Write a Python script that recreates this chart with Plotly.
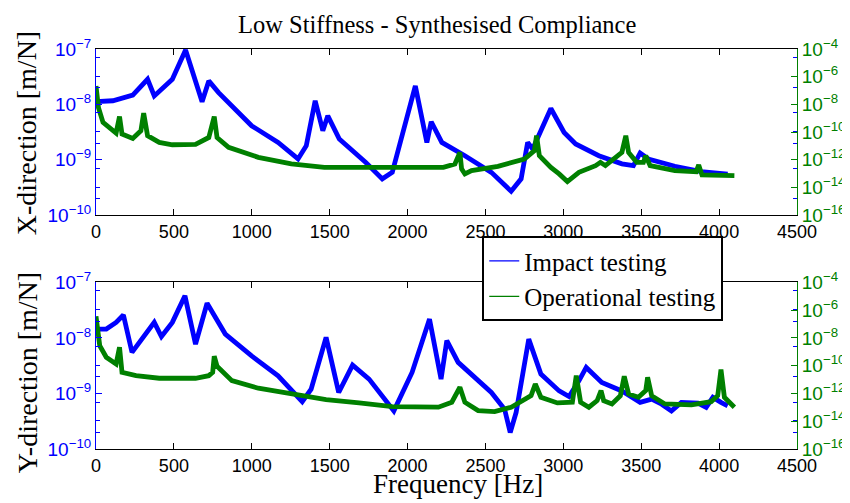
import plotly.graph_objects as go

# ---------------- data ----------------
# Top panel: X-direction
freq_impact_x = [2, 108, 236, 331, 374, 490, 575, 681, 724, 787, 999, 1169, 1297, 1350, 1407,
                 1456, 1488, 1562, 1732, 1838, 1902, 2050, 2124, 2152, 2220, 2368, 2538, 2665,
                 2729, 2771, 2803, 2920, 3005, 3079, 3228, 3376, 3450, 3493, 3546, 3716, 3885, 4055]
impact_x = [1.12e-8, 1.16e-8, 1.47e-8, 2.84e-8, 1.42e-8, 2.84e-8, 9.6e-8, 1.11e-8, 2.65e-8, 1.63e-8,
            4.1e-9, 2.05e-9, 1.03e-9, 1.79e-9, 1.16e-8, 3.33e-9, 6.2e-9, 2.36e-9, 8.9e-10, 4.5e-10,
            5.9e-10, 2.15e-8, 2.05e-9, 4.84e-9, 2.05e-9, 1.18e-9, 5.9e-10, 2.69e-10, 4.5e-10, 2.05e-9,
            1.56e-9, 8.4e-9, 3.1e-9, 1.92e-9, 1.18e-9, 8.4e-10, 7.8e-10, 1.32e-9, 1.03e-9, 7.6e-10,
            6.1e-10, 5.5e-10]

freq_oper_x = [0, 16, 45, 129, 151, 167, 236, 288, 306, 331, 406, 490, 639, 724, 759, 777, 851,
               1042, 1254, 1466, 2230, 2304, 2336, 2347, 2368, 2411, 2580, 2750, 2814, 2828, 2846,
               2920, 2973, 3026, 3100, 3207, 3238, 3270, 3376, 3401, 3419, 3471, 3514, 3529, 3557,
               3716, 3853, 3869, 3890, 4098]
oper_x = [2.15e-7, 5.6e-9, 4.9e-10, 8.4e-11, 1.32e-9, 7.1e-11, 3.4e-11, 1.23e-10, 2.32e-9, 5.4e-11,
          1.77e-11, 1.2e-11, 1.27e-11, 4.0e-11, 1.32e-9, 4.0e-11, 7.7e-12, 1.47e-12, 4.9e-13, 2.79e-13,
          2.79e-13, 4.9e-13, 3.36e-12, 2.14e-13, 9.3e-14, 1.61e-13, 3.29e-13, 1.12e-12, 4.46e-12, 5.4e-11,
          1.94e-12, 2.79e-13, 9.3e-14, 2.6e-14, 1.22e-13, 3.7e-13, 6.4e-13, 3.7e-13, 3.36e-12, 5.4e-11,
          3.36e-12, 6.4e-13, 6.4e-13, 1.94e-12, 3.7e-13, 1.61e-13, 1.36e-13, 4.15e-13, 7.9e-14, 7.0e-14]

# Bottom panel: Y-direction
freq_impact_y = [2, 66, 129, 176, 231, 374, 420, 490, 571, 639, 713, 830, 999, 1169, 1324, 1381,
                 1477, 1558, 1647, 1753, 1912, 2029, 2141, 2215, 2252, 2325, 2538, 2623, 2659, 2697,
                 2778, 2856, 2973, 3037, 3100, 3147, 3247, 3376, 3493, 3567, 3631, 3694, 3758, 3864,
                 3917, 3960, 4012, 4055]
impact_y = [1.44e-8, 1.44e-8, 1.90e-8, 2.58e-8, 5.5e-9, 1.90e-8, 1.06e-8, 1.90e-8, 5.7e-8, 7.7e-9,
            4.2e-8, 1.17e-8, 4.75e-9, 2.07e-9, 7.1e-10, 1.19e-9, 1.02e-8, 1.04e-9, 3.24e-9, 1.81e-9,
            4.85e-10, 2.39e-9, 2.18e-8, 1.81e-9, 8.9e-9, 3.62e-9, 1.04e-9, 5.2e-10, 1.98e-10, 4.55e-10,
            9.5e-9, 2.23e-9, 1.11e-9, 8.8e-10, 1.69e-9, 2.94e-9, 1.58e-9, 1.11e-9, 6.9e-10, 7.9e-10,
            6.4e-10, 4.85e-10, 6.9e-10, 6.7e-10, 5.6e-10, 8.5e-10, 6.9e-10, 6.0e-10]

freq_oper_y = [0, 24, 66, 129, 151, 167, 257, 406, 639, 724, 749, 759, 777, 872, 1042, 1254, 1477,
               1689, 1902, 2198, 2284, 2336, 2368, 2453, 2559, 2665, 2793, 2820, 2856, 2962, 3058,
               3083, 3111, 3164, 3217, 3242, 3259, 3312, 3366, 3391, 3419, 3482, 3529, 3541, 3567,
               3652, 3822, 3949, 3991, 4012, 4034, 4098]
oper_y = [3.58e-7, 2.75e-9, 4.0e-10, 1.32e-10, 2.11e-9, 3.35e-11, 1.91e-11, 1.24e-11, 1.24e-11, 1.91e-11,
          3.35e-11, 4.74e-10, 9.1e-11, 8.3e-12, 2.37e-12, 9.2e-13, 3.58e-13, 2.07e-13, 1.12e-13, 1.02e-13,
          2.33e-13, 2.79e-12, 2.33e-13, 5.8e-14, 4.9e-14, 1.02e-13, 6.9e-13, 4.8e-12, 5.3e-13, 2.07e-13,
          2.33e-13, 1.91e-11, 2.33e-13, 1.02e-13, 3.03e-13, 1.59e-12, 3.03e-13, 1.76e-13, 6.9e-13, 1.73e-11,
          9.2e-13, 5.3e-13, 1.59e-12, 1.46e-11, 6.9e-13, 1.76e-13, 1.49e-13, 2.57e-13, 6.9e-13, 5.2e-11,
          5.3e-13, 1.02e-13]

x_ticks = [0, 500, 1000, 1500, 2000, 2500, 3000, 3500, 4000, 4500]
left_ticks = [1e-10, 1e-9, 1e-8, 1e-7]
left_tick_text = ["10<sup>\u221210</sup>", "10<sup>\u22129</sup>", "10<sup>\u22128</sup>", "10<sup>\u22127</sup>"]
left_minor_ticks = [7e-8, 3.2e-8, 2e-8, 7e-9, 3.2e-9, 2e-9, 7e-10, 3.2e-10, 2e-10]
right_ticks = [1e-16, 1e-14, 1e-12, 1e-10, 1e-8, 1e-6, 1e-4]
right_tick_text = ["10<sup>\u221216</sup>", "10<sup>\u221214</sup>", "10<sup>\u221212</sup>",
                   "10<sup>\u221210</sup>", "10<sup>\u22128</sup>", "10<sup>\u22126</sup>",
                   "10<sup>\u22124</sup>"]

series_names = ["Impact testing", "Operational testing"]
title_text = "Low Stiffness - Synthesised Compliance"
ylabel_top = "X-direction [m/N]"
ylabel_bottom = "Y-direction [m/N]"
xlabel = "Frequency [Hz]"

# ---------------- styling ----------------
BLUE = "#0000ff"
GREEN = "#008000"
SERIF = "Liberation Serif"
SANS = "Liberation Sans"
LW = 4.8

fig = go.Figure()

# top panel
fig.add_trace(go.Scatter(x=freq_impact_x, y=impact_x, mode="lines", xaxis="x2", yaxis="y3",
                         line=dict(color=BLUE, width=LW), showlegend=False, hoverinfo="skip"))
fig.add_trace(go.Scatter(x=freq_oper_x, y=oper_x, mode="lines", xaxis="x2", yaxis="y4",
                         line=dict(color=GREEN, width=LW), showlegend=False, hoverinfo="skip"))
# bottom panel
fig.add_trace(go.Scatter(x=freq_impact_y, y=impact_y, mode="lines", xaxis="x", yaxis="y",
                         line=dict(color=BLUE, width=LW), showlegend=False, hoverinfo="skip"))
fig.add_trace(go.Scatter(x=freq_oper_y, y=oper_y, mode="lines", xaxis="x", yaxis="y2",
                         line=dict(color=GREEN, width=LW), showlegend=False, hoverinfo="skip"))
# legend entries (thin lines as in the reference legend)
for name, col in zip(series_names, [BLUE, GREEN]):
    fig.add_trace(go.Scatter(x=[None], y=[None], mode="lines", xaxis="x", yaxis="y",
                             line=dict(color=col, width=1.2), name=name))

def xaxis_cfg(anchor):
    return dict(domain=[0, 1], anchor=anchor, range=[0, 4500], tickmode="array", tickvals=x_ticks,
                ticks="inside", ticklen=6, tickcolor="black", showline=True, linecolor="black",
                linewidth=1, mirror="ticks", showgrid=False, zeroline=False,
                tickfont=dict(family=SANS, size=18, color="black"))

def left_cfg(domain, anchor):
    return dict(domain=domain, anchor=anchor, type="log", range=[-10, -7],
                tickmode="array", tickvals=left_ticks, ticktext=left_tick_text,
                ticks="inside", ticklen=6, tickcolor=BLUE,
                showline=True, linecolor=BLUE, linewidth=1, mirror="ticks", showgrid=False,
                zeroline=False, tickfont=dict(family=SANS, size=19, color=BLUE),
                minor=dict(tickmode="array", tickvals=left_minor_ticks, ticks="inside",
                           ticklen=4, tickcolor=BLUE, showgrid=False))

def right_cfg(over, anchor):
    return dict(overlaying=over, anchor=anchor, side="right", type="log", range=[-16, -4],
                tickmode="array", tickvals=right_ticks, ticktext=right_tick_text,
                ticks="inside", ticklen=6, tickcolor=GREEN,
                showline=True, linecolor=GREEN, linewidth=1, showgrid=False, zeroline=False,
                tickfont=dict(family=SANS, size=19, color=GREEN))

fig.update_layout(
    width=850, height=503, autosize=False,
    margin=dict(l=88, r=55, t=41, b=62),
    paper_bgcolor="white", plot_bgcolor="white",
    xaxis=xaxis_cfg("y"),
    yaxis=left_cfg([0, 0.4167], "x"),
    yaxis2=right_cfg("y", "x"),
    xaxis2=xaxis_cfg("y3"),
    yaxis3=left_cfg([0.585, 1], "x2"),
    yaxis4=right_cfg("y3", "x2"),
    showlegend=True,
    legend=dict(x=0.551, y=0.532, xanchor="left", yanchor="top", bgcolor="white",
                bordercolor="black", borderwidth=2, font=dict(family=SERIF, size=25, color="black"),
                itemwidth=30, tracegroupgap=0),
    annotations=[
        dict(text=title_text, xref="paper", yref="paper", x=0.487, y=1.06, showarrow=False,
             xanchor="center", yanchor="middle", font=dict(family=SERIF, size=24.5, color="black")),
        dict(text=ylabel_top, xref="paper", yref="paper", x=-0.098, y=0.79, showarrow=False,
             textangle=-90, xanchor="center", yanchor="middle",
             font=dict(family=SERIF, size=28, color="black")),
        dict(text=ylabel_bottom, xref="paper", yref="paper", x=-0.098, y=0.19, showarrow=False,
             textangle=-90, xanchor="center", yanchor="middle",
             font=dict(family=SERIF, size=28, color="black")),
        dict(text=xlabel, xref="paper", yref="paper", x=0.516, y=-0.087, showarrow=False,
             xanchor="center", yanchor="middle", font=dict(family=SERIF, size=27, color="black")),
    ],
)

fig.write_html("out.html")
